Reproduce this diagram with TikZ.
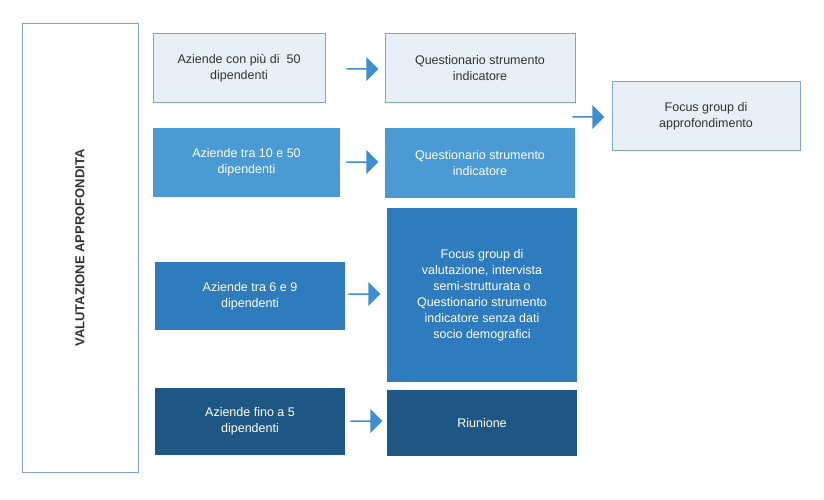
\documentclass[tikz,border=0pt]{standalone}
\usepackage{fontspec}
\setmainfont{Liberation Sans}
\usepackage{xcolor}
\usetikzlibrary{shapes.arrows}
\definecolor{lightbox}{HTML}{E8EFF6}
\definecolor{lightedge}{HTML}{7FA6C8}
\definecolor{midbox}{HTML}{4A9AD4}
\definecolor{deepbox}{HTML}{2E7BBE}
\definecolor{darkbox}{HTML}{1F5784}
\definecolor{arrowblue}{HTML}{3F8FD0}
\definecolor{textgray}{HTML}{333333}
\begin{document}
\begin{tikzpicture}[x=1pt,y=1pt,
      mybox/.style={
         draw=lightedge,
         line width=1pt,
         align=center,
         inner sep=4pt,
         font=\fontsize{12.5}{16}\selectfont},
      lightfill/.style={mybox, fill=lightbox, text=textgray},
      darkfill/.style={mybox, draw=none, fill=#1, text=white},
      myarrow/.style={
         single arrow,
         fill=arrowblue,
         minimum height=32pt,
         minimum width=24pt,
         single arrow head extend=3pt,
         inner sep=0pt}
      ]
\useasboundingbox (0,0) rectangle (824,499);

\node[draw=lightedge, line width=1pt, minimum width=116pt, minimum height=448pt] (side) at (80,251) {};
\node[rotate=90, font=\bfseries\fontsize{13}{16}\selectfont, text=textgray] (sidetext) at (side) {VALUTAZIONE APPROFONDITA};

\node[lightfill, minimum width=172pt, minimum height=69pt] (a1) at (239,430.5) {Aziende con più di \ 50\\dipendenti};
\node[lightfill, minimum width=190pt, minimum height=69pt] (q1) at (480,430.5) {Questionario strumento\\indicatore};
\node[lightfill, minimum width=188pt, minimum height=68pt] (fg) at (706,383) {Focus group di\\approfondimento};

\node[darkfill=midbox, minimum width=187pt, minimum height=69pt] (a2) at (246.5,336.5) {Aziende tra 10 e 50\\dipendenti};
\node[darkfill=midbox, minimum width=190pt, minimum height=70pt] (q2) at (480,336) {Questionario strumento\\indicatore};

\node[darkfill=deepbox, minimum width=190pt, minimum height=68pt] (a3) at (250,203) {Aziende tra 6 e 9\\dipendenti};
\node[darkfill=deepbox, minimum width=190pt, minimum height=174pt] (q3) at (482,204) {Focus group di\\valutazione, intervista\\semi-strutturata o\\Questionario strumento\\indicatore senza dati\\socio demografici};

\node[darkfill=darkbox, minimum width=190pt, minimum height=67pt] (a4) at (250,77.5) {Aziende fino a 5\\dipendenti};
\node[darkfill=darkbox, minimum width=190pt, minimum height=66pt] (q4) at (482,76) {Riunione};

\node[myarrow] (r1) at (362,430) {};
\node[myarrow] (r2) at (362,337) {};
\node[myarrow] (r3) at (364,205) {};
\node[myarrow] (r4) at (366,78) {};
\node[myarrow] (r5) at (588,382) {};

\end{tikzpicture}
\end{document}
